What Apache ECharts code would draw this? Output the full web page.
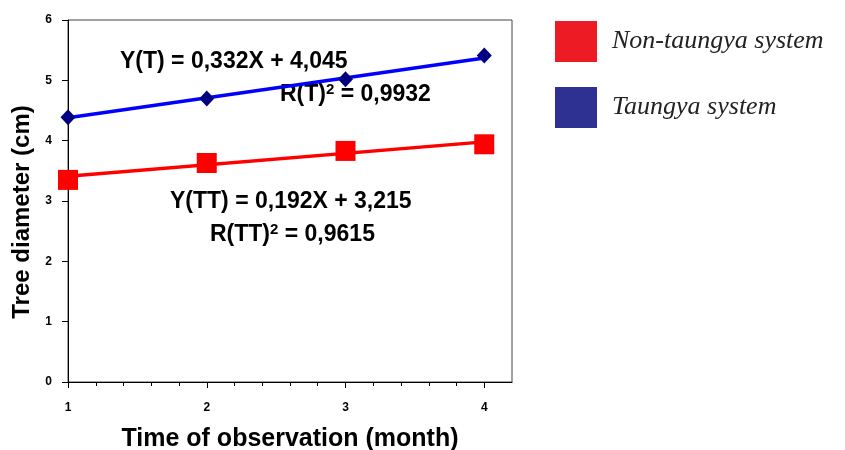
<!DOCTYPE html>
<html><head><meta charset="utf-8">
<script src="https://cdn.jsdelivr.net/npm/echarts@6/dist/echarts.min.js"></script>
<style>html,body{margin:0;padding:0;background:#fff}#c{width:845px;height:450px}</style>
</head><body><div id="c"></div>
<script>
var months = [1, 2, 3, 4];
var taungya = [4.39, 4.70, 5.02, 5.41];
var nonTaungya = [3.35, 3.63, 3.83, 3.94];
var trendX = [1, 4];
var taungyaTrend = [4.38, 5.37];
var nonTaungyaTrend = [3.41, 3.98];
var xTicks = [1, 2, 3, 4];
var seriesNames = ['Non-taungya system', 'Taungya system'];

function pairs(xs, ys) { return xs.map(function (x, i) { return [x, ys[i]]; }); }

var chart = echarts.init(document.getElementById('c'));
var bold = {fontFamily: 'Liberation Sans, Arial', fontWeight: 'bold', color: '#000'};
var rich = {
  b: {fontSize: 23, fontFamily: 'Liberation Sans, Arial', fontWeight: 'bold', fill: '#000', verticalAlign: 'bottom'},
  s: {fontSize: 15, fontFamily: 'Liberation Sans, Arial', fontWeight: 'bold', fill: '#000', verticalAlign: 'top', padding: [0, 0, 9, 0]}
};
chart.setOption({
  animation: false,
  grid: {left: 68, right: 333, top: 20, bottom: 68, show: true, borderColor: '#444', borderWidth: 1, outerBoundsMode: 'none', containLabel: false},
  legend: {
    orient: 'vertical', left: 555, top: 21, itemWidth: 42, itemHeight: 41, itemGap: 25, padding: 0,
    icon: 'rect',
    data: [
      {name: seriesNames[0], itemStyle: {color: '#ED1C24', opacity: 1}},
      {name: seriesNames[1], itemStyle: {color: '#2E3192', opacity: 1}}
    ],
    textStyle: {fontFamily: 'Liberation Serif, Times New Roman', fontStyle: 'italic', fontSize: 26, color: '#222', padding: [0, 0, 0, 10]}
  },
  xAxis: {
    type: 'value', min: 1, max: 4.2, interval: 1,
    name: 'Time of observation (month)', nameLocation: 'middle', nameGap: 45,
    nameTextStyle: Object.assign({fontSize: 25}, bold),
    axisLine: {show: true, lineStyle: {color: '#000', width: 1}},
    axisTick: {show: true, length: 6, lineStyle: {color: '#000'}, customValues: xTicks},
    minorTick: {show: true, splitNumber: 5, length: 4, lineStyle: {color: '#000'}},
    axisLabel: Object.assign({fontSize: 12, margin: 20, customValues: xTicks}, bold),
    splitLine: {show: false}
  },
  yAxis: {
    type: 'value', min: 0, max: 6, interval: 1,
    name: 'Tree diameter (cm)', nameLocation: 'middle', nameGap: 31,
    nameTextStyle: Object.assign({fontSize: 24, padding: [0, 22, 0, 0]}, bold),
    axisLine: {show: true, lineStyle: {color: '#000', width: 1}},
    axisTick: {show: true, length: 6, lineStyle: {color: '#000'}},
    axisLabel: Object.assign({fontSize: 12, margin: 16}, bold),
    splitLine: {show: false}
  },
  series: [
    {name: 'trendT', type: 'line', data: pairs(trendX, taungyaTrend), symbol: 'none',
     lineStyle: {color: '#0000FF', width: 3.5}, z: 2, silent: true},
    {name: 'trendTT', type: 'line', data: pairs(trendX, nonTaungyaTrend), symbol: 'none',
     lineStyle: {color: '#FF0000', width: 3.5}, z: 2, silent: true},
    {name: seriesNames[1], type: 'scatter', data: pairs(months, taungya), symbol: 'diamond', symbolSize: [15, 16],
     itemStyle: {color: '#000080', opacity: 1}, z: 3},
    {name: seriesNames[0], type: 'scatter', data: pairs(months, nonTaungya), symbol: 'rect', symbolSize: 20,
     itemStyle: {color: '#FF0000', opacity: 1}, z: 3}
  ],
  graphic: [
    {type: 'text', left: 120, top: 50, style: {text: 'Y(T) = 0,332X + 4,045', fontSize: 23, fill: '#000', fontFamily: 'Liberation Sans, Arial', fontWeight: 'bold'}},
    {type: 'text', left: 280, top: 82, style: {text: '{b|R(T)}{s|2}{b| = 0,9932}', fill: '#000', rich: rich}},
    {type: 'text', left: 170, top: 190, style: {text: 'Y(TT) = 0,192X + 3,215', fontSize: 23, fill: '#000', fontFamily: 'Liberation Sans, Arial', fontWeight: 'bold'}},
    {type: 'text', left: 210, top: 222, style: {text: '{b|R(TT)}{s|2}{b| = 0,9615}', fill: '#000', rich: rich}}
  ]
});
</script></body></html>
